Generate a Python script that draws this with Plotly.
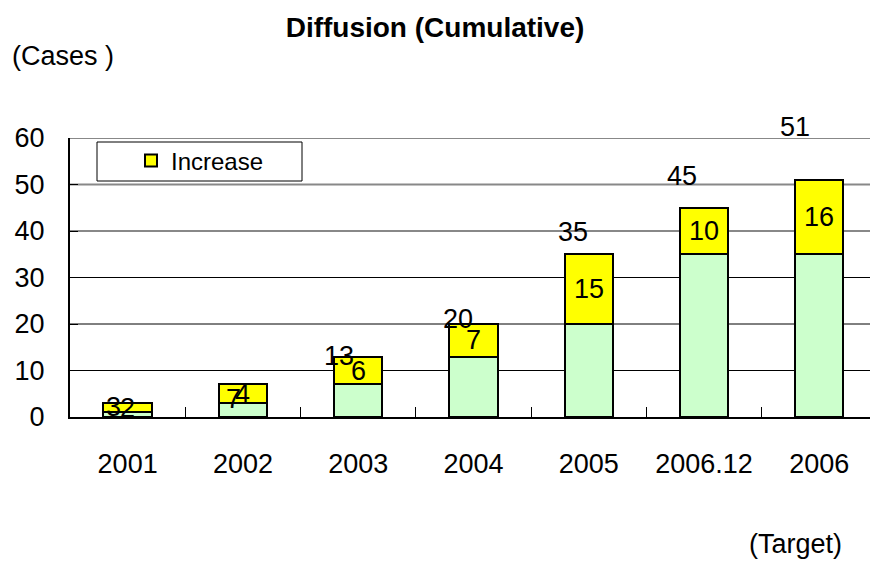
import plotly.graph_objects as go

# Data
categories = ["2001", "2002", "2003", "2004", "2005", "2006.12", "2006"]
previous = [1, 3, 7, 13, 20, 35, 35]          # cumulative at start of period
increase = [2, 4, 6, 7, 15, 10, 16]           # new cases in period
totals = [p + i for p, i in zip(previous, increase)]
y_ticks = [0, 10, 20, 30, 40, 50, 60]

# Offsets (px) for the cumulative total labels
total_xshift = [-14, -9, -19, -15, -16, -22, -24]
total_yshift = [-4, -15, 1, 5, 22, 32, 53]

FONT = "Arial, Liberation Sans, sans-serif"
GREEN = "#CCFFCC"
YELLOW = "#FFFF00"
FS = 27

W, H = 870, 562
L, R, T, B = 70, 0, 138, 145
pw, ph = W - L - R, H - T - B


def px_x(x):
    return (x - L) / pw


def px_y(y):
    return (H - B - y) / ph


fig = go.Figure()
fig.add_trace(go.Bar(
    x=categories, y=previous, name="Base", showlegend=False,
    marker=dict(color=GREEN, line=dict(color="black", width=2)),
    width=0.42, hoverinfo="skip",
))
fig.add_trace(go.Bar(
    x=categories, y=increase, name="Increase", showlegend=True,
    marker=dict(color=YELLOW, line=dict(color="black", width=2)),
    width=0.42, hoverinfo="skip",
))

label_font = dict(family=FONT, size=FS, color="black")
annotations = []
# increase values inside the yellow segments
for k, (p, i) in enumerate(zip(previous, increase)):
    annotations.append(dict(
        x=k, y=p + i / 2, xref="x", yref="y", text=str(i), showarrow=False,
        font=label_font, xanchor="center", yanchor="middle",
    ))
# cumulative totals
for k, (t, dx, dy) in enumerate(zip(totals, total_xshift, total_yshift)):
    annotations.append(dict(
        x=k, y=t, xref="x", yref="y", text=str(t), showarrow=False,
        font=label_font, xanchor="center", yanchor="middle",
        xshift=dx, yshift=dy,
    ))
# axis captions
annotations.append(dict(
    x=px_x(10), y=px_y(56), xref="paper", yref="paper", text="(Cases )",
    showarrow=False, xanchor="left", yanchor="middle", font=label_font,
))
annotations.append(dict(
    x=px_x(844), y=px_y(544), xref="paper", yref="paper", text="(Target)",
    showarrow=False, xanchor="right", yanchor="middle", font=label_font,
))

# grid lines: upper ones lighter
shapes = []
for v in y_ticks[1:]:
    upper = v >= 40
    shapes.append(dict(
        type="line", xref="paper", yref="y", x0=0, x1=1, y0=v, y1=v,
        line=dict(color="#888888" if upper else "black", width=2 if upper else 1),
        layer="below",
    ))

# legend frame
shapes.append(dict(
    type="rect", xref="paper", yref="paper",
    x0=px_x(97), x1=px_x(302), y0=px_y(181), y1=px_y(142),
    line=dict(color="black", width=1), fillcolor="white", layer="above",
))

fig.update_layout(
    width=W, height=H,
    margin=dict(l=L, r=R, t=T, b=B),
    paper_bgcolor="white", plot_bgcolor="white",
    barmode="stack",
    font=dict(family=FONT, size=FS, color="black"),
    title=dict(
        text="<b>Diffusion (Cumulative)</b>", x=435 / W, xref="container",
        y=1 - 27 / H, yref="container", xanchor="center", yanchor="middle",
        font=dict(family=FONT, size=28, color="black"),
    ),
    xaxis=dict(
        type="category", range=[-0.5, 6.44], showgrid=False,
        showline=True, linecolor="black", linewidth=2,
        ticks="inside", tickson="boundaries", ticklen=10, tickcolor="black",
        tickwidth=1, ticklabelstandoff=22,
        tickfont=dict(family=FONT, size=FS, color="black"),
    ),
    yaxis=dict(
        range=[0, 60], tickvals=y_ticks, showgrid=False, zeroline=False,
        showline=True, linecolor="black", linewidth=2,
        ticks="inside", ticklen=8, tickcolor="black",
        ticklabelstandoff=18,
        tickfont=dict(family=FONT, size=FS, color="black"),
    ),
    legend=dict(
        x=px_x(131), y=px_y(161), xanchor="left", yanchor="middle",
        bgcolor="rgba(0,0,0,0)", borderwidth=0,
        font=dict(family=FONT, size=24, color="black"),
    ),
    shapes=shapes,
    annotations=annotations,
)

fig.write_html("out.html")
